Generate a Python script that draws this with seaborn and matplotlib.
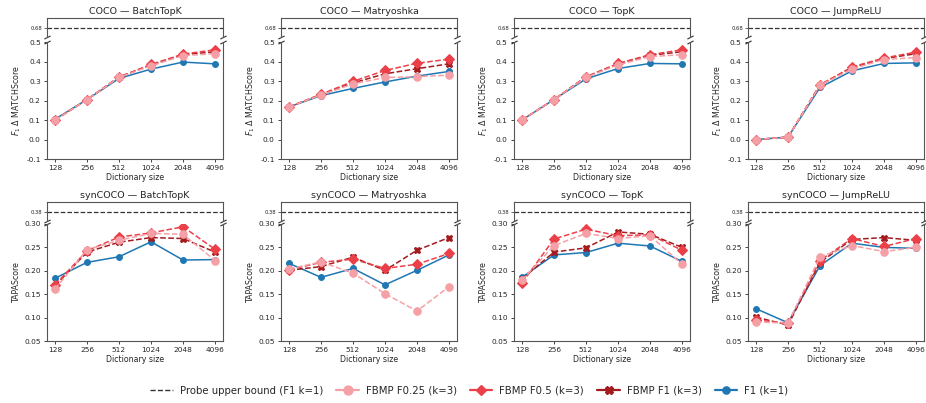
import numpy as np
import pandas as pd
import matplotlib
matplotlib.use("Agg")
import matplotlib.pyplot as plt
from matplotlib.lines import Line2D
import seaborn as sns

sns.set_style("ticks")
plt.rcParams['font.family'] = ['DejaVu Sans']

dict_sizes = ["128", "256", "512", "1024", "2048", "4096"]
sae_types = ["BatchTopK", "Matryoshka", "TopK", "JumpReLU"]
series_names = ["FBMP F0.25 (k=3)", "FBMP F0.5 (k=3)", "FBMP F1 (k=3)", "F1 (k=1)"]
probe_label = "Probe upper bound (F1 k=1)"

coco_probe = 0.68
syn_probe = 0.38

# COCO  -- F1 Δ MATCHScore
coco_f025 = {
    "BatchTopK":  [0.100, 0.205, 0.318, 0.378, 0.430, 0.440],
    "Matryoshka": [0.167, 0.228, 0.285, 0.318, 0.322, 0.330],
    "TopK":       [0.100, 0.205, 0.318, 0.383, 0.425, 0.435],
    "JumpReLU":   [0.000, 0.012, 0.278, 0.362, 0.410, 0.420],
}
coco_f05 = {
    "BatchTopK":  [0.100, 0.205, 0.320, 0.385, 0.438, 0.460],
    "Matryoshka": [0.167, 0.232, 0.298, 0.354, 0.391, 0.412],
    "TopK":       [0.100, 0.205, 0.322, 0.390, 0.435, 0.460],
    "JumpReLU":   [0.000, 0.012, 0.280, 0.372, 0.418, 0.448],
}
coco_f1k3 = {
    "BatchTopK":  [0.100, 0.205, 0.320, 0.382, 0.435, 0.450],
    "Matryoshka": [0.167, 0.230, 0.290, 0.337, 0.363, 0.388],
    "TopK":       [0.100, 0.205, 0.320, 0.388, 0.432, 0.450],
    "JumpReLU":   [0.000, 0.012, 0.280, 0.368, 0.415, 0.440],
}
coco_f1k1 = {
    "BatchTopK":  [0.104, 0.205, 0.313, 0.361, 0.397, 0.388],
    "Matryoshka": [0.167, 0.225, 0.262, 0.295, 0.325, 0.349],
    "TopK":       [0.100, 0.205, 0.311, 0.364, 0.390, 0.388],
    "JumpReLU":   [0.000, 0.012, 0.267, 0.352, 0.390, 0.393],
}

# synCOCO -- TAPAScore
syn_f025 = {
    "BatchTopK":  [0.161, 0.245, 0.265, 0.280, 0.278, 0.222],
    "Matryoshka": [0.204, 0.219, 0.195, 0.151, 0.114, 0.166],
    "TopK":       [0.180, 0.254, 0.280, 0.269, 0.275, 0.214],
    "JumpReLU":   [0.091, 0.088, 0.230, 0.254, 0.241, 0.250],
}
syn_f05 = {
    "BatchTopK":  [0.170, 0.243, 0.272, 0.281, 0.294, 0.246],
    "Matryoshka": [0.202, 0.218, 0.225, 0.205, 0.214, 0.237],
    "TopK":       [0.174, 0.268, 0.289, 0.275, 0.277, 0.244],
    "JumpReLU":   [0.095, 0.088, 0.222, 0.269, 0.252, 0.269],
}
syn_f1k3 = {
    "BatchTopK":  [0.168, 0.240, 0.261, 0.271, 0.269, 0.240],
    "Matryoshka": [0.201, 0.209, 0.229, 0.201, 0.244, 0.271],
    "TopK":       [0.183, 0.240, 0.249, 0.283, 0.278, 0.250],
    "JumpReLU":   [0.101, 0.084, 0.218, 0.267, 0.271, 0.265],
}
syn_f1k1 = {
    "BatchTopK":  [0.184, 0.218, 0.230, 0.262, 0.223, 0.224],
    "Matryoshka": [0.216, 0.186, 0.205, 0.170, 0.201, 0.234],
    "TopK":       [0.186, 0.234, 0.239, 0.259, 0.253, 0.220],
    "JumpReLU":   [0.119, 0.089, 0.211, 0.259, 0.250, 0.248],
}

styles = {
    "F1 (k=1)":          dict(color="#1f77b4", marker="o", ls="-",  ms=4.2, z=2),
    "FBMP F1 (k=3)":     dict(color="#a31a1f", marker="X", ls="--", ms=5.0, z=3),
    "FBMP F0.5 (k=3)":   dict(color="#ec4049", marker="D", ls="--", ms=4.6, z=4),
    "FBMP F0.25 (k=3)":  dict(color="#f5a0a6", marker="o", ls="--", ms=5.4, z=5),
}

fig = plt.figure(figsize=(9.26, 4.03), dpi=100)
W, H = 926.0, 403.0
col_left = [47, 281, 514, 748]
col_w = 176
rows = [
    dict(name="COCO", top=(18, 37), main=(42, 159), probe=coco_probe, plim=(0.665, 0.695),
         data=[coco_f025, coco_f05, coco_f1k3, coco_f1k1], ylim=(-0.1, 0.5),
         yticks=[-0.1, 0.0, 0.1, 0.2, 0.3, 0.4, 0.5], fmt="{:.1f}",
         ylabel="$F_1$ Δ MATCHScore"),
    dict(name="synCOCO", top=(202, 221), main=(224, 341), probe=syn_probe, plim=(0.365, 0.395),
         data=[syn_f025, syn_f05, syn_f1k3, syn_f1k1], ylim=(0.05, 0.30),
         yticks=[0.05, 0.10, 0.15, 0.20, 0.25, 0.30], fmt="{:.2f}",
         ylabel="TAPAScore"),
]

tick_fs = 5.3
label_fs = 5.7
title_fs = 6.8

for row in rows:
    for ci, sae in enumerate(sae_types):
        left = col_left[ci] / W
        wdt = col_w / W
        t0, t1 = row["top"]
        m0, m1 = row["main"]
        ax_top = fig.add_axes([left, 1 - t1 / H, wdt, (t1 - t0) / H])
        ax = fig.add_axes([left, 1 - m1 / H, wdt, (m1 - m0) / H])

        x = np.arange(len(dict_sizes))
        order = [3, 2, 1, 0]
        for si in order:
            name = series_names[si]
            st = styles[name]
            df = pd.DataFrame({"x": x, "y": row["data"][si][sae]})
            sns.lineplot(data=df, x="x", y="y", ax=ax, color=st["color"],
                         marker=st["marker"], linestyle=st["ls"], markersize=st["ms"],
                         markeredgecolor=st["color"], linewidth=1.1, zorder=st["z"],
                         legend=False)
        ax.set_xlim(-0.25, 5.25)
        ax.set_ylim(*row["ylim"])
        ax.set_yticks(row["yticks"])
        ax.set_yticklabels([row["fmt"].format(v) for v in row["yticks"]])
        ax.set_xticks(x)
        ax.set_xticklabels(dict_sizes)
        ax.tick_params(labelsize=tick_fs, length=2.5, width=0.6, pad=2)
        ax.set_xlabel("Dictionary size", fontsize=label_fs, labelpad=1.5)
        ax.set_ylabel(row["ylabel"], fontsize=label_fs, labelpad=2)
        ax.spines["top"].set_visible(False)
        for s in ["left", "right", "bottom"]:
            ax.spines[s].set_linewidth(0.8)
            ax.spines[s].set_color("#555555")

        ax_top.axhline(row["probe"], color="#333333", ls="--", lw=0.9)
        ax_top.set_xlim(-0.25, 5.25)
        ax_top.set_ylim(*row["plim"])
        ax_top.set_yticks([row["probe"]])
        ax_top.set_yticklabels([f"{row['probe']:.2f}"])
        ax_top.set_xticks([])
        ax_top.tick_params(labelsize=3.8, length=2, width=0.5, pad=1.5)
        ax_top.spines["bottom"].set_visible(False)
        for s in ["left", "right", "top"]:
            ax_top.spines[s].set_linewidth(0.8)
            ax_top.spines[s].set_color("#555555")
        ax_top.set_title(f"{row['name']} — {sae}", fontsize=title_fs, pad=3)

        d = 0.5
        kw = dict(marker=[(-1, -d), (1, d)], markersize=4.5, linestyle="none",
                  color="#333333", mec="#333333", mew=0.8, clip_on=False)
        ax_top.plot([0, 1], [0, 0], transform=ax_top.transAxes, **kw)
        ax.plot([0, 1], [1, 1], transform=ax.transAxes, **kw)

handles = [Line2D([0], [0], color="#333333", ls="--", lw=1.0)]
for name in series_names:
    st = styles[name]
    handles.append(Line2D([0], [0], color=st["color"], marker=st["marker"], ls="-",
                          lw=1.6, markersize=st["ms"] + 1, markeredgecolor=st["color"]))
fig.legend(handles, [probe_label] + series_names, loc="center", bbox_to_anchor=(0.507, 0.03),
           ncol=5, frameon=False, fontsize=7.3, handlelength=2.2, columnspacing=1.3,
           handletextpad=0.7)

fig.savefig("out.png", dpi=100)
